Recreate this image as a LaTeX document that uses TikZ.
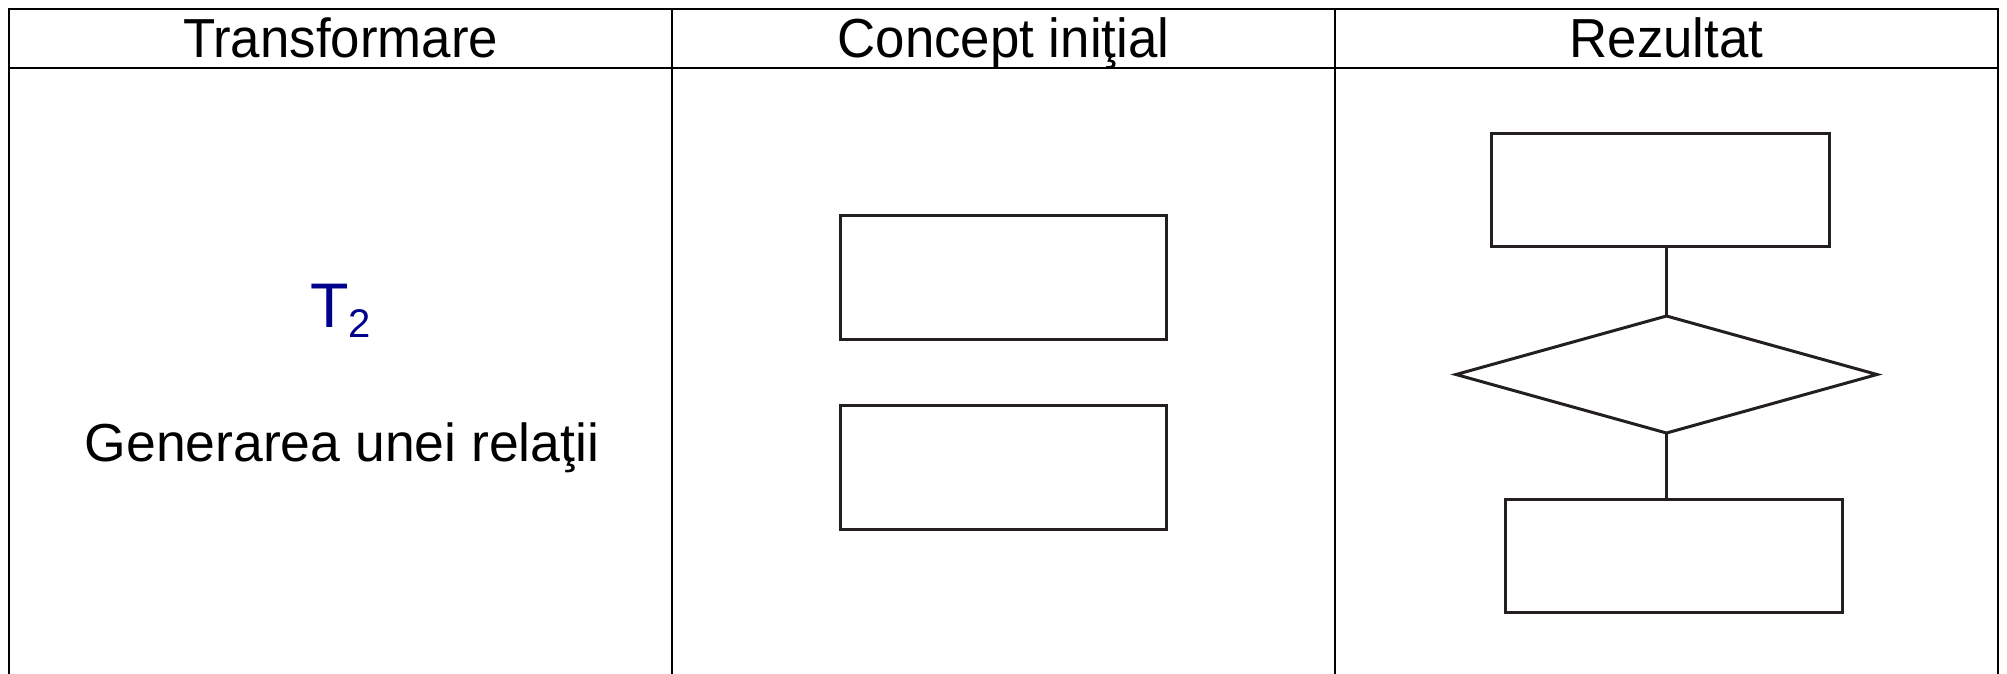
\documentclass[tikz,border=0pt]{standalone}
\usepackage{fontspec}
\setmainfont{Liberation Sans}
\newfontfamily\hdrfont[FakeStretch=0.96]{Liberation Sans}
\usetikzlibrary{shapes.geometric}
\definecolor{tblue}{RGB}{0,0,140}
\definecolor{ink}{RGB}{35,31,32}
\begin{document}
\begin{tikzpicture}[x=1pt,y=-1pt,
  grid/.style={line width=2.6pt,black},
  hdr/.style={anchor=base,inner sep=0pt,font=\hdrfont\fontsize{55}{60}\selectfont},
  body/.style={anchor=base,inner sep=0pt,font=\fontsize{53.5}{60}\selectfont},
  boxshape/.style={draw=ink,line width=3pt,rectangle,inner sep=0pt,outer sep=0pt},
  decshape/.style={draw=ink,line width=3pt,diamond,inner sep=0pt,outer sep=0pt,
     minimum width=421pt,minimum height=117pt,aspect=3.6},
  link/.style={draw=ink,line width=3pt}]
\useasboundingbox (0,0) rectangle (2007,673);
\fill[white] (0,0) rectangle (2007,673);
% table
\draw[grid] (9,690) -- (9,9) -- (1998,9) -- (1998,690);
\draw[grid] (9,68) -- (1998,68);
\draw[grid] (672,9) -- (672,690);
\draw[grid] (1335,9) -- (1335,690);
% headers
\node[hdr] (h1) at (340.5,57) {Transformare};
\node[hdr] (h2) at (1003.5,57) {Concept iniţial};
\node[hdr] (h3) at (1666.5,57) {Rezultat};
% left column
\node[anchor=base,inner sep=0pt,text=tblue] (t2) at (340.5,327)
  {\fontsize{63}{66}\selectfont T\lower10pt\hbox{\fontsize{40}{44}\selectfont 2}};
\node[body] (gen) at (342,461) {Generarea unei relaţii};
% middle column
\node[boxshape,minimum width=326pt,minimum height=124pt] (c1) at (1003,277.5) {};
\node[boxshape,minimum width=326pt,minimum height=124pt] (c2) at (1003,467) {};
% right column
\node[boxshape,minimum width=338pt,minimum height=113pt] (r1) at (1660,189.5) {};
\node[decshape] (d1) at (1666.5,374.5) {};
\node[boxshape,minimum width=337pt,minimum height=113pt] (r2) at (1673.5,555.5) {};
\draw[link] (d1.north) -- (d1.north |- r1.south);
\draw[link] (d1.south) -- (d1.south |- r2.north);
\end{tikzpicture}
\end{document}
